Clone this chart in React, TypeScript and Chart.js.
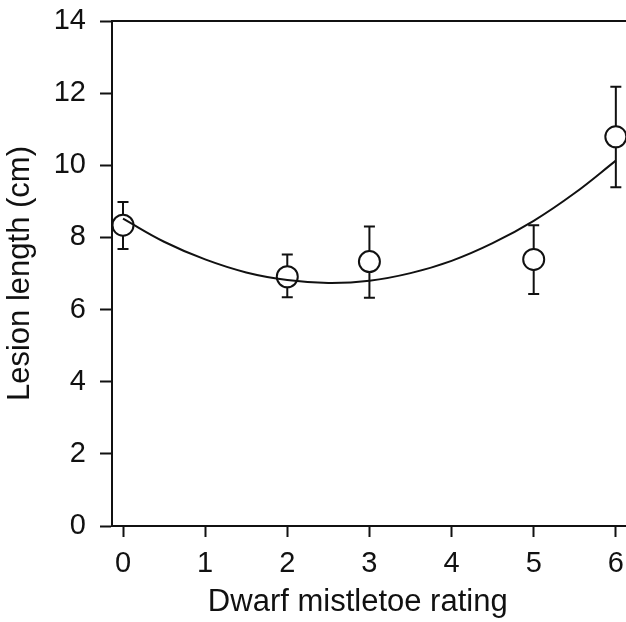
import React, { useEffect, useRef } from "react";
import { Chart, registerables } from "chart.js";

Chart.register(...registerables);

// Mean lesion length per dwarf mistletoe rating class, with error bar limits
const ratings = [0, 2, 3, 5, 6];
const lesionMean = [8.34, 6.91, 7.33, 7.39, 10.79];
const errUpper = [8.98, 7.53, 8.3, 8.34, 12.18];
const errLower = [7.68, 6.34, 6.33, 6.43, 9.39];

// Quadratic regression curve, sampled along the rating axis
const fitX = [0, 0.5, 1, 1.5, 2, 2.5, 3, 3.5, 4, 4.5, 5, 5.5, 6];
const fitY = [8.52, 7.88, 7.39, 7.03, 6.82, 6.74, 6.8, 7.01, 7.35, 7.84, 8.46, 9.23, 10.13];

const xTicks = [0, 1, 2, 3, 4, 5, 6];
const yTicks = [0, 2, 4, 6, 8, 10, 12, 14];

const xTitle = "Dwarf mistletoe rating";
const yTitle = "Lesion length (cm)";

const FONT = "'Liberation Sans', Arial, sans-serif";
const INK = "#111";

const errorBars = {
  id: "errorBars",
  beforeDatasetsDraw(chart: any) {
    const { ctx, scales } = chart;
    const xs = scales.x;
    const ys = scales.y;
    ctx.save();
    ctx.strokeStyle = INK;
    ctx.lineWidth = 2;
    ratings.forEach((r, i) => {
      const px = xs.getPixelForValue(r);
      const top = ys.getPixelForValue(errUpper[i]);
      const bot = ys.getPixelForValue(errLower[i]);
      const cap = 5.5;
      ctx.beginPath();
      ctx.moveTo(px, top);
      ctx.lineTo(px, bot);
      ctx.moveTo(px - cap, top);
      ctx.lineTo(px + cap, top);
      ctx.moveTo(px - cap, bot);
      ctx.lineTo(px + cap, bot);
      ctx.stroke();
    });
    ctx.restore();
  },
};

// Top frame line plus the x-axis caption, centred under the data range
const frameAndCaption = {
  id: "frameAndCaption",
  afterDraw(chart: any) {
    const { ctx, chartArea, scales } = chart;
    ctx.save();
    ctx.strokeStyle = INK;
    ctx.lineWidth = 2;
    ctx.beginPath();
    ctx.moveTo(chartArea.left, chartArea.top);
    ctx.lineTo(chartArea.right, chartArea.top);
    ctx.stroke();

    const cx = (scales.x.getPixelForValue(-0.134) + scales.x.getPixelForValue(5.85)) / 2;
    ctx.fillStyle = INK;
    ctx.font = `31px ${FONT}`;
    ctx.textAlign = "center";
    ctx.textBaseline = "middle";
    ctx.fillText(xTitle, cx, 602);
    ctx.restore();
  },
};

export default function App() {
  const ref = useRef<HTMLCanvasElement | null>(null);

  useEffect(() => {
    if (!ref.current) return;
    const chart = new Chart(ref.current, {
      type: "scatter",
      data: {
        datasets: [
          {
            type: "line",
            label: "fit",
            data: fitX.map((x, i) => ({ x, y: fitY[i] })),
            borderColor: INK,
            borderWidth: 2,
            pointRadius: 0,
            tension: 0.4,
            fill: false,
            order: 0,
            clip: false,
          },
          {
            label: "mean",
            data: ratings.map((x, i) => ({ x, y: lesionMean[i] })),
            pointRadius: 10.5,
            pointBackgroundColor: "#fff",
            pointBorderColor: INK,
            pointBorderWidth: 2,
            order: 1,
            clip: false,
          } as any,
        ],
      },
      options: {
        responsive: false,
        animation: false,
        layout: { padding: { top: 21, right: 0, left: 0, bottom: 0 } },
        plugins: { legend: { display: false }, tooltip: { enabled: false } },
        scales: {
          x: {
            type: "linear",
            min: -0.134,
            max: 6.142,
            afterBuildTicks: (s: any) => {
              s.ticks = xTicks.map((v) => ({ value: v }));
            },
            afterFit: (s: any) => {
              s.height = 96;
              s.paddingLeft = 0;
              s.paddingRight = 0;
            },
            grid: {
              drawOnChartArea: false,
              drawTicks: true,
              tickLength: 11,
              tickColor: INK,
              tickWidth: 2,
            },
            border: { display: true, color: INK, width: 2 },
            ticks: {
              color: INK,
              padding: 10,
              font: { family: FONT, size: 29 },
              maxRotation: 0,
            },
            title: { display: false },
          },
          y: {
            type: "linear",
            min: 0,
            max: 14,
            afterBuildTicks: (s: any) => {
              s.ticks = yTicks.map((v) => ({ value: v }));
            },
            afterFit: (s: any) => {
              s.width = 112;
              s.paddingTop = 0;
              s.paddingBottom = 0;
            },
            grid: {
              drawOnChartArea: false,
              drawTicks: true,
              tickLength: 12,
              tickColor: INK,
              tickWidth: 2,
            },
            border: { display: true, color: INK, width: 2 },
            ticks: {
              color: INK,
              padding: 14,
              font: { family: FONT, size: 29 },
            },
            title: {
              display: true,
              text: yTitle,
              color: INK,
              font: { family: FONT, size: 31 },
              padding: { top: 2, bottom: 0 },
            },
          },
        },
      },
      plugins: [errorBars, frameAndCaption],
    });
    return () => chart.destroy();
  }, []);

  // The plot frame runs off the right edge, so the canvas is a little wider than its clipping box
  return (
    <div
      style={{
        position: "absolute",
        left: 0,
        top: 0,
        width: 626,
        height: 622,
        overflow: "hidden",
        background: "#fff",
      }}
    >
      <canvas ref={ref} width={640} height={622} style={{ display: "block" }} />
    </div>
  );
}
